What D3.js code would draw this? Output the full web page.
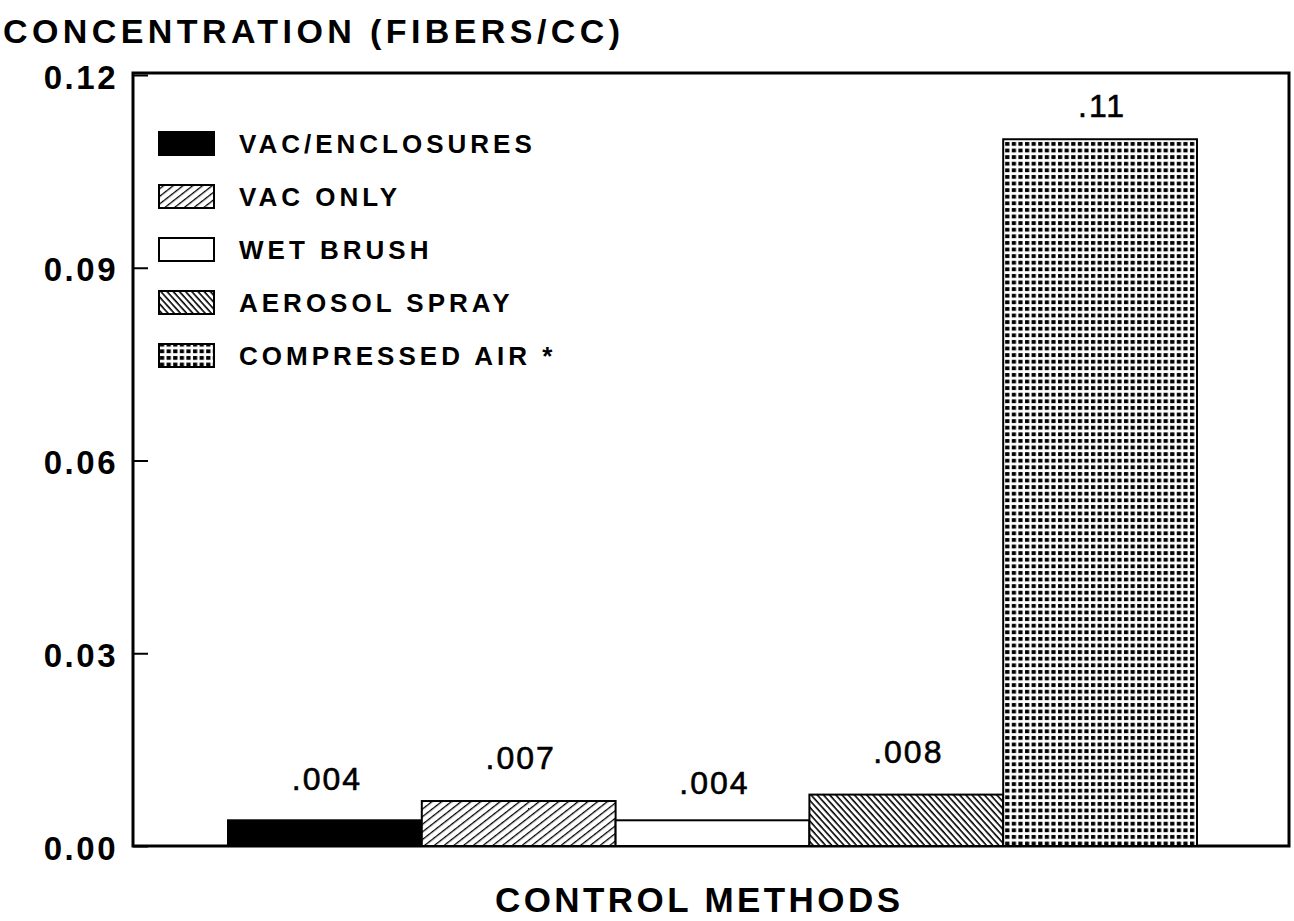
<!DOCTYPE html>
<html>
<head>
<meta charset="utf-8">
<script src="https://cdn.jsdelivr.net/npm/d3@7"></script>
<style>
  body { margin: 0; background: #fff; }
  text { font-family: "Liberation Sans", Arial, sans-serif; font-weight: bold; fill: #000; }
</style>
</head>
<body>
<div id="chart"></div>
<script>
// data
var methods = ["VAC/ENCLOSURES", "VAC ONLY", "WET BRUSH", "AEROSOL SPRAY", "COMPRESSED AIR *"];
var concentration = [0.004, 0.007, 0.004, 0.008, 0.11];
var yTicks = [0, 0.03, 0.06, 0.09, 0.12];

// fill per method (pattern ids defined below)
var fills = ["#000", "url(#hatchUp)", "#fff", "url(#hatchDown)", "url(#dots)"];
// label nudges above each bar top
var labelGap = [30, 32, 26, 32, 22];

var width = 1294, height = 921;
var margin = {top: 75, right: 5, bottom: 75, left: 133};
var plotW = width - margin.left - margin.right;
var plotH = height - margin.top - margin.bottom;

var svg = d3.select("#chart").append("svg")
            .attr("width", width)
            .attr("height", height);

var defs = svg.append("defs");

// "/" hatching
var up = defs.append("pattern")
             .attr("id", "hatchUp")
             .attr("patternUnits", "userSpaceOnUse")
             .attr("width", 6).attr("height", 6)
             .attr("patternTransform", "rotate(-38)");
up.append("rect").attr("width", 6).attr("height", 6).attr("fill", "#fff");
up.append("line").attr("x1", 0).attr("y1", 0).attr("x2", 6).attr("y2", 0)
  .attr("stroke", "#000").attr("stroke-width", 2.6);

// "\" dense hatching
var down = defs.append("pattern")
               .attr("id", "hatchDown")
               .attr("patternUnits", "userSpaceOnUse")
               .attr("width", 4.6).attr("height", 4.6)
               .attr("patternTransform", "rotate(48)");
down.append("rect").attr("width", 4.6).attr("height", 4.6).attr("fill", "#fff");
down.append("line").attr("x1", 0).attr("y1", 0).attr("x2", 4.6).attr("y2", 0)
    .attr("stroke", "#000").attr("stroke-width", 3.2);

var dots = defs.append("pattern")
               .attr("id", "dots")
               .attr("patternUnits", "userSpaceOnUse")
               .attr("width", 6.6).attr("height", 6.6);
dots.append("rect").attr("width", 6.6).attr("height", 6.6).attr("fill", "#fff");
dots.append("rect").attr("x", 1).attr("y", 1).attr("width", 4.2).attr("height", 3.8)
    .attr("fill", "#000");

var g = svg.append("g")
           .attr("transform", "translate(" + margin.left + "," + margin.top + ")");

var x = d3.scaleBand()
          .domain(methods)
          .range([95, 1064])
          .padding(0);

var y = d3.scaleLinear()
          .domain([0, 0.12])
          .range([plotH, 0]);

// frame
g.append("rect")
 .attr("x", 0).attr("y", -2)
 .attr("width", plotW).attr("height", plotH + 2)
 .attr("fill", "none")
 .attr("stroke", "#000")
 .attr("stroke-width", 3);

// y axis, ticks pointing inward
var yAxis = d3.axisLeft(y)
              .tickValues(yTicks)
              .tickFormat(d3.format(".2f"))
              .tickSize(-15)
              .tickPadding(15);

var ya = g.append("g").call(yAxis);
ya.select(".domain").remove();
ya.selectAll(".tick line").attr("stroke", "#000").attr("stroke-width", 2);
ya.selectAll(".tick text")
  .style("font-size", "33px")
  .style("letter-spacing", "2.5px")
  .attr("dy", "0.4em");

// bars
g.selectAll(".bar")
 .data(concentration)
 .enter()
 .append("rect")
 .attr("class", "bar")
 .attr("x", function (d, i) { return x(methods[i]); })
 .attr("y", function (d) { return y(d); })
 .attr("width", x.bandwidth())
 .attr("height", function (d) { return plotH - y(d); })
 .attr("fill", function (d, i) { return fills[i]; })
 .attr("stroke", "#000")
 .attr("stroke-width", 2);

// value labels
g.selectAll(".val")
 .data(concentration)
 .enter()
 .append("text")
 .attr("class", "val")
 .attr("x", function (d, i) { return x(methods[i]) + x.bandwidth() / 2 + 2; })
 .attr("y", function (d, i) { return y(d) - labelGap[i]; })
 .attr("text-anchor", "middle")
 .style("font-size", "32px")
 .style("font-weight", "normal")
 .style("stroke", "#000")
 .style("stroke-width", "0.6px")
 .style("letter-spacing", "2px")
 .text(function (d) { return String(d).replace(/^0/, ""); });

// legend
var legend = g.selectAll(".legend")
              .data(methods)
              .enter()
              .append("g")
              .attr("class", "legend")
              .attr("transform", function (d, i) { return "translate(26," + (68 + i * 53) + ")"; });

legend.append("rect")
      .attr("x", 0).attr("y", -11)
      .attr("width", 55).attr("height", 23)
      .attr("fill", function (d, i) { return fills[i]; })
      .attr("stroke", "#000")
      .attr("stroke-width", 2);

legend.append("text")
      .attr("x", 80)
      .attr("y", 10)
      .style("font-size", "26px")
      .style("letter-spacing", "4px")
      .text(function (d) { return d; });

// axis titles
svg.append("text")
   .attr("x", 3)
   .attr("y", 43)
   .attr("textLength", 617)
   .attr("lengthAdjust", "spacing")
   .style("font-size", "34px")
   .text("CONCENTRATION (FIBERS/CC)");

svg.append("text")
   .attr("x", 495)
   .attr("y", 912)
   .attr("textLength", 405)
   .attr("lengthAdjust", "spacing")
   .style("font-size", "35px")
   .text("CONTROL METHODS");
</script>
</body>
</html>
